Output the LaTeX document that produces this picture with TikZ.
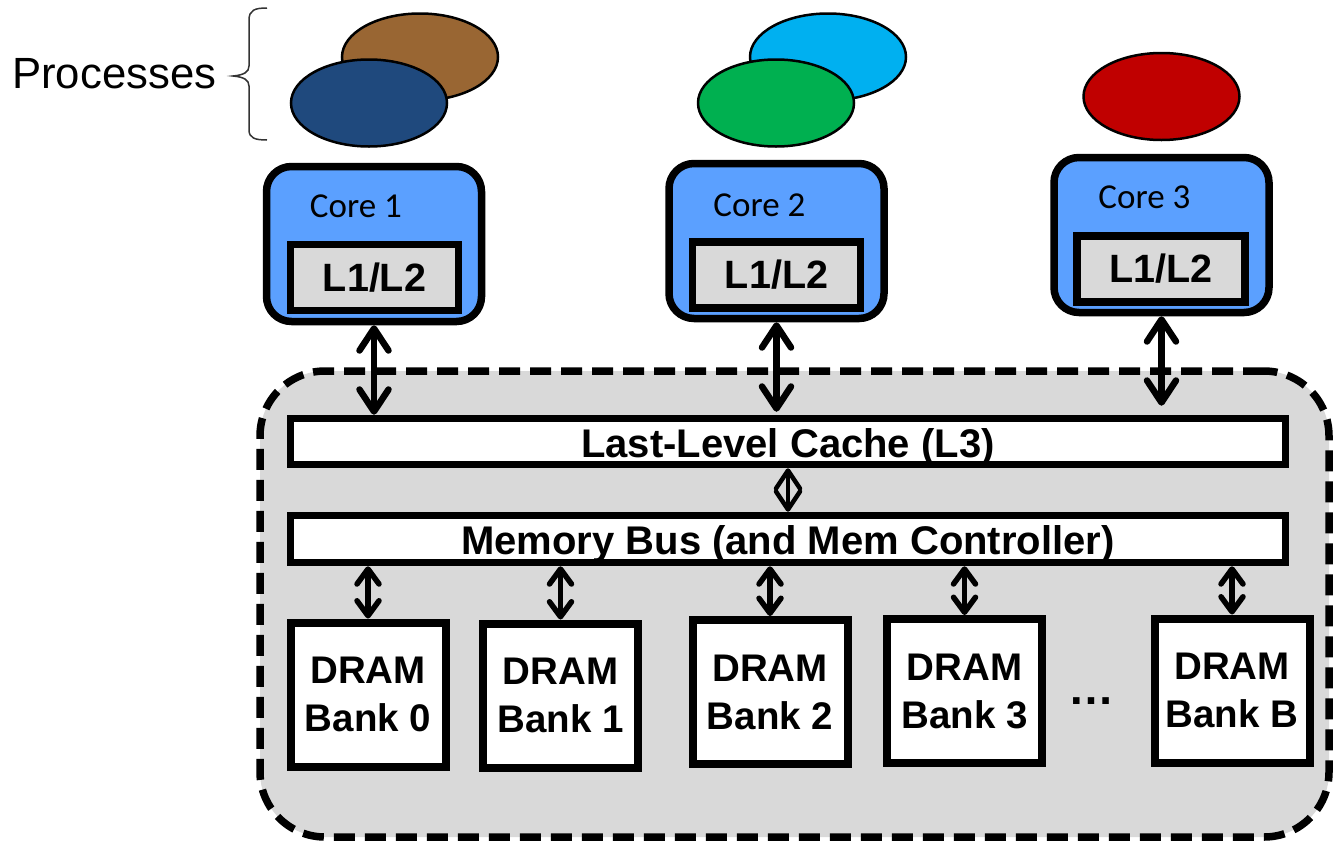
\documentclass[tikz,border=0pt]{standalone}
\usepackage{fontspec}
\setmainfont{Liberation Sans}
\newfontfamily\corefont{Carlito}
\usetikzlibrary{arrows.meta,calc,shapes.geometric}
\definecolor{corefill}{RGB}{91,160,255}
\definecolor{greyfill}{RGB}{217,217,217}
\definecolor{pbrown}{RGB}{153,102,51}
\definecolor{pnavy}{RGB}{31,73,125}
\definecolor{pcyan}{RGB}{0,176,240}
\definecolor{pgreen}{RGB}{0,176,80}
\definecolor{pred}{RGB}{192,0,0}
\tikzset{
  proc/.style={ellipse, draw=black, line width=2.5pt, minimum width=156pt, minimum height=87pt, inner sep=0pt},
  corebox/.style={draw=black, line width=7.5pt, fill=corefill, rounded corners=25pt, minimum width=215pt, minimum height=155pt, inner sep=0pt},
  cachebox/.style={draw=black, line width=7.5pt, fill=greyfill, minimum width=168pt, minimum height=66pt, inner sep=0pt, font=\fontsize{39.5}{47}\selectfont\bfseries},
  corelabel/.style={anchor=base west, inner sep=0pt, font=\corefont\fontsize{35}{42}\selectfont},
  container/.style={draw=black, line width=7.5pt, fill=greyfill, dash pattern=on 21pt off 10pt, rounded corners=65pt, minimum width=1069pt, minimum height=466pt, inner sep=0pt},
  barbox/.style={draw=black, line width=7.5pt, fill=white, minimum width=995pt, inner sep=0pt, text height=31.6pt, text depth=0pt, font=\fontsize{40}{48}\selectfont\bfseries},
  bankbox/.style={draw=black, line width=8pt, fill=white, minimum width=155pt, minimum height=144pt, inner sep=0pt, align=center, font=\fontsize{38.5}{48}\selectfont\bfseries},
  bigarr/.style={line width=6.5pt, {Straight Barb[round,length=22pt,width=29pt]}-{Straight Barb[round,length=22pt,width=29pt]}},
  smallarr/.style={line width=5.5pt, {Straight Barb[round,length=15pt,width=22pt]}-{Straight Barb[round,length=15pt,width=22pt]}},
  tinyarr/.style={line width=4.5pt, {Straight Barb[round,length=18pt,width=24pt]}-{Straight Barb[round,length=18pt,width=24pt]}},
  bracepath/.style={draw=black!80, line width=1.5pt},
}
\begin{document}
\begin{tikzpicture}[x=1pt,y=-1pt]
\useasboundingbox (0,0) rectangle (1333,841);

% processes
\node[proc, fill=pbrown] (pb) at (420,57) {};
\node[proc, fill=pnavy] (pn) at (369,103) {};
\node[proc, fill=pcyan] (pc) at (828,57) {};
\node[proc, fill=pgreen] (pg) at (776,103) {};
\node[proc, fill=pred] (pr) at (1161.5,96.5) {};

\node[anchor=base west, inner sep=0pt, font=\fontsize{43.7}{50}\selectfont] (plabel) at (12,88) {Processes};
\draw[bracepath] (267,8) .. controls (255,8) and (249,10) .. (249,20) -- (249,66)
  .. controls (249,72) and (244,75) .. (233,76)
  .. controls (244,77) and (249,80) .. (249,86) -- (249,130)
  .. controls (249,138) and (255,140) .. (267,140);

% memory container
\node[container] (mem) at (794.5,604) {};

% cores
\node[corebox] (c1) at (374,244) {};
\node[corebox] (c2) at (776.5,241) {};
\node[corebox] (c3) at (1161.5,235) {};
\node[corelabel] (t1) at ($(c1.north west)+(47,55)$) {Core 1};
\node[corelabel] (t2) at ($(c2.north west)+(48,57)$) {Core 2};
\node[corelabel] (t3) at ($(c3.north west)+(48,55)$) {Core 3};
\node[cachebox] (l1) at (374.5,277.5) {L1/L2};
\node[cachebox] (l2) at (776.5,275) {L1/L2};
\node[cachebox] (l3) at (1161,269) {L1/L2};

% LLC and bus
\node[barbox, minimum height=46pt] (llc) at (788,441.5) {Last-Level Cache (L3)};
\node[barbox, minimum height=47pt] (mb) at (788,539) {Memory Bus (and Mem Controller)};

% banks
\node[bankbox] (b0) at (368,694.5) {DRAM\\Bank 0};
\node[bankbox] (b1) at (560.5,695.5) {DRAM\\Bank 1};
\node[bankbox] (b2) at (770,692) {DRAM\\Bank 2};
\node[bankbox] (b3) at (964.5,691) {DRAM\\Bank 3};
\node[bankbox] (bb) at (1232,690.5) {DRAM\\Bank B};
\node[anchor=base, inner sep=0pt, font=\fontsize{46}{52}\selectfont\bfseries] (dots) at (1091,704) {…};

% arrows
\draw[bigarr] (c1.south) -- (c1.south |- llc.north);
\draw[bigarr, shorten >=3pt] (c2.south) -- (c2.south |- llc.north);
\draw[bigarr, shorten >=9pt] (c3.south) -- (c3.south |- llc.north);
\draw[tinyarr] (llc.south) -- (mb.north);
\foreach \b in {b0,b1,b2,b3,bb}
  \draw[smallarr] (mb.south -| \b.north) -- (\b.north);
\end{tikzpicture}
\end{document}
